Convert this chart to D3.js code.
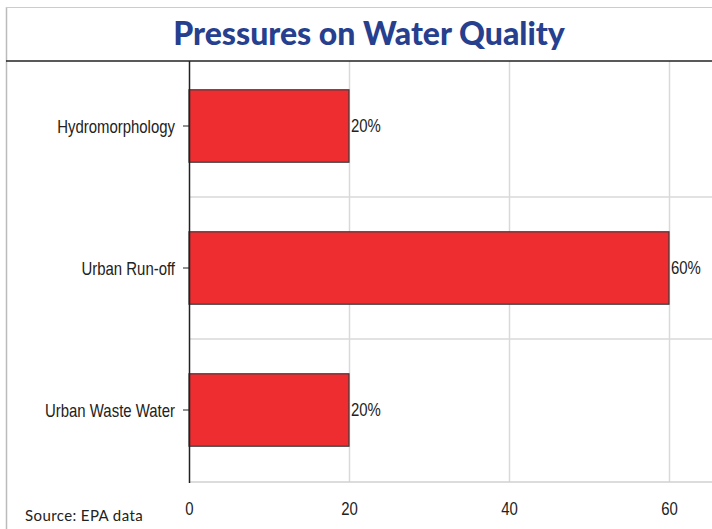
<!DOCTYPE html>
<html><head><meta charset="utf-8">
<script src="https://cdn.jsdelivr.net/npm/d3@7"></script>
<style>body{margin:0;background:#fff;} svg{display:block;}</style>
</head><body>
<svg id="c" width="712" height="529"></svg>
<script>
const categories = ["Hydromorphology", "Urban Run-off", "Urban Waste Water"];
const values = [20, 60, 20];
const xTicks = [0, 20, 40, 60];
const title = "Pressures on Water Quality";
const source = "Source: EPA data";

const svg = d3.select("#c");
const narrow = "'Liberation Sans', Arial, sans-serif";
const SX = 0.83;
function condense(sel) {
  sel.each(function() {
    const t = d3.select(this);
    const xx = +t.attr("x") || 0;
    const yy = +t.attr("y") || 0;
    t.attr("x", 0).attr("y", 0).attr("transform", `translate(${xx},${yy}) scale(${SX},1)`);
  });
}

// frame
svg.append("line").attr("x1",6.5).attr("x2",6.5).attr("y1",7).attr("y2",529).attr("stroke","#bbb").attr("stroke-width",1.5);
svg.append("line").attr("x1",6).attr("x2",712).attr("y1",7.5).attr("y2",7.5).attr("stroke","#ccc").attr("stroke-width",1);

svg.append("text").attr("x",369).attr("y",45).attr("text-anchor","middle")
  .attr("font-family","Lato, 'Open Sans', sans-serif").attr("font-weight",900)
  .attr("font-size",32).attr("fill","#263f8e").text(title);

const x = d3.scaleLinear().domain([0,60]).range([189,669]);
const y = d3.scaleBand().domain(categories).range([55,481]).paddingInner(0.49).paddingOuter(0.245);

const plotTop = 61, plotBottom = 482;
// vertical gridlines
svg.append("g").selectAll("line").data(xTicks.filter(d=>d>0)).join("line")
  .attr("x1",d=>x(d)+0.5).attr("x2",d=>x(d)+0.5).attr("y1",plotTop).attr("y2",plotBottom)
  .attr("stroke","#d9d9d9").attr("stroke-width",1.5);
// horizontal gridlines between bands
const step = y.step();
svg.append("g").selectAll("line").data(categories.slice(1)).join("line")
  .attr("x1",189).attr("x2",712)
  .attr("y1",d=>y(d)-y.paddingInner()*step/2).attr("y2",d=>y(d)-y.paddingInner()*step/2)
  .attr("stroke","#d9d9d9").attr("stroke-width",1.5);
// bottom axis line
svg.append("line").attr("x1",189).attr("x2",712).attr("y1",plotBottom).attr("y2",plotBottom).attr("stroke","#d0d0d0").attr("stroke-width",1.5);
// top black line
svg.append("line").attr("x1",6).attr("x2",712).attr("y1",plotTop).attr("y2",plotTop).attr("stroke","#222").attr("stroke-width",1.5);

// bars
svg.append("g").selectAll("rect").data(values).join("rect")
  .attr("x",x(0)).attr("y",(d,i)=>y(categories[i]))
  .attr("width",d=>x(d)-x(0)).attr("height",y.bandwidth())
  .attr("fill","#ee2d31").attr("stroke","#3a3a3a").attr("stroke-width",1.2);

// value labels
svg.append("g").selectAll("text").data(values).join("text")
  .attr("x",d=>x(d)+2).attr("y",(d,i)=>y(categories[i])+y.bandwidth()/2+1)
  .attr("font-family",narrow).attr("font-size",18).attr("fill","#222")
  .attr("dominant-baseline","middle").text(d=>d+"%")
  .call(condense);

// y axis
const yAxis = svg.append("g").attr("transform","translate(189,0)")
  .call(d3.axisLeft(y).tickSize(6).tickPadding(8));
yAxis.select(".domain").remove();
yAxis.selectAll(".tick line").attr("stroke","#222");
yAxis.selectAll(".tick text").attr("font-family",narrow).attr("font-size",18).attr("fill","#222")
  .attr("dy","0.4em").call(condense);
svg.append("line").attr("x1",189.5).attr("x2",189.5).attr("y1",plotTop).attr("y2",plotBottom+1).attr("stroke","#222").attr("stroke-width",1.5);

// x axis labels
const xAxis = svg.append("g").attr("transform",`translate(0,${plotBottom})`)
  .call(d3.axisBottom(x).tickValues(xTicks).tickSize(0).tickPadding(20));
xAxis.select(".domain").remove();
xAxis.selectAll(".tick text").attr("font-family",narrow).attr("font-size",18).attr("fill","#222")
  .call(condense);

svg.append("text").attr("x",25).attr("y",521).attr("font-family","Lato, 'Open Sans', sans-serif")
  .attr("font-size",15).attr("letter-spacing",0.4).attr("fill","#222").text(source);
</script>
</body></html>
